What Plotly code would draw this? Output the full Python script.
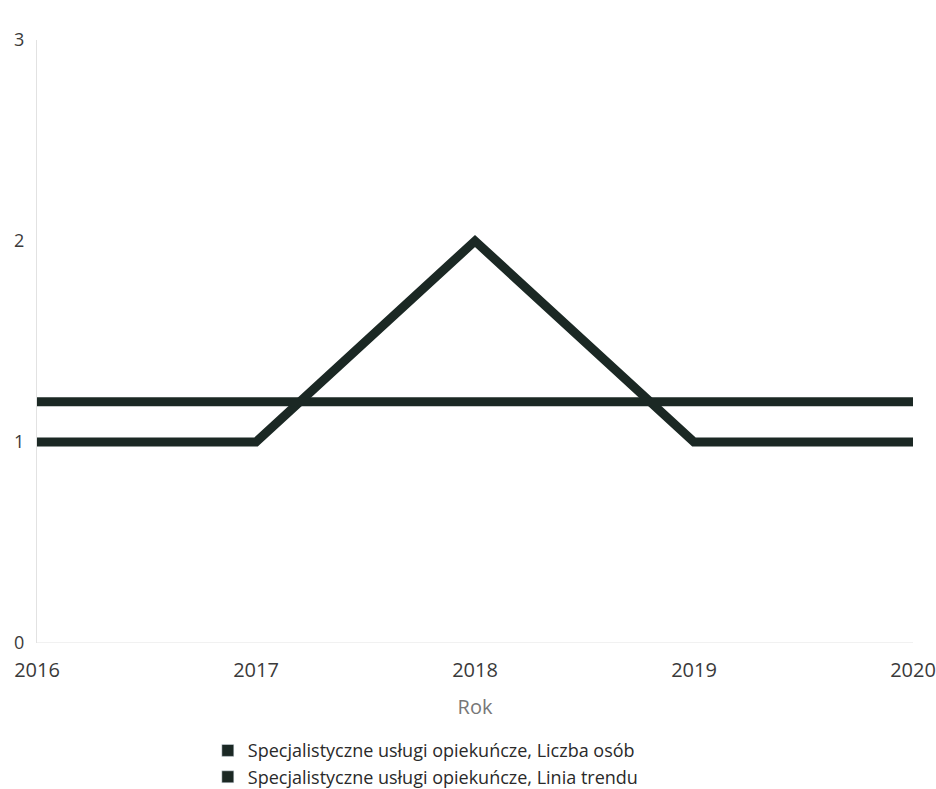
import plotly.graph_objects as go

years = [2016, 2017, 2018, 2019, 2020]
liczba_osob = [1, 1, 2, 1, 1]
linia_trendu = [1.2, 1.2, 1.2, 1.2, 1.2]
names = ["Specjalistyczne usługi opiekuńcze, Liczba osób",
         "Specjalistyczne usługi opiekuńcze, Linia trendu"]
y_ticks = [0, 1, 2, 3]

line_color = "#1b2824"

fig = go.Figure()
fig.add_trace(go.Scatter(x=years, y=liczba_osob, mode="lines", name=names[0],
                         line=dict(color=line_color, width=9), showlegend=False))
fig.add_trace(go.Scatter(x=years, y=linia_trendu, mode="lines", name=names[1],
                         line=dict(color=line_color, width=9), showlegend=False))
for n in names:
    fig.add_trace(go.Bar(x=[None], y=[None], name=n, marker=dict(color=line_color)))

fig.update_layout(
    width=936, height=789,
    margin=dict(l=37, r=23, t=40, b=146, autoexpand=False),
    plot_bgcolor="white", paper_bgcolor="white",
    font=dict(family="Open Sans", color="#444", size=18),
    showlegend=True,
    legend=dict(x=0.195, xanchor="left", yref="container", y=0.072, yanchor="top",
                font=dict(size=18, color="#2a2a2a"), tracegroupgap=0,
                itemwidth=30, bgcolor="rgba(0,0,0,0)"),
    xaxis=dict(range=[2016, 2020], tickvals=years, ticktext=[str(y) for y in years],
               showgrid=False, zeroline=False, showline=False, ticks="",
               ticklabelstandoff=13, automargin=False,
               tickfont=dict(size=20, color="#3a3a3a"),
               title=dict(text="Rok", font=dict(size=20, color="#777"), standoff=17)),
    yaxis=dict(range=[0, 3], tickvals=y_ticks, showgrid=False, zeroline=False,
               showline=True, linecolor="#e2e2e2", linewidth=1, ticks="",
               ticklabelstandoff=8, automargin=False,
               tickfont=dict(size=18, color="#3a3a3a")),
)
fig.add_shape(type="line", xref="paper", yref="y", x0=0, x1=1, y0=0, y1=0,
              line=dict(color="#e2e2e2", width=1), layer="below")

fig.write_html("out.html", config={"displayModeBar": False},
               post_script="document.body.style.margin='0';")
